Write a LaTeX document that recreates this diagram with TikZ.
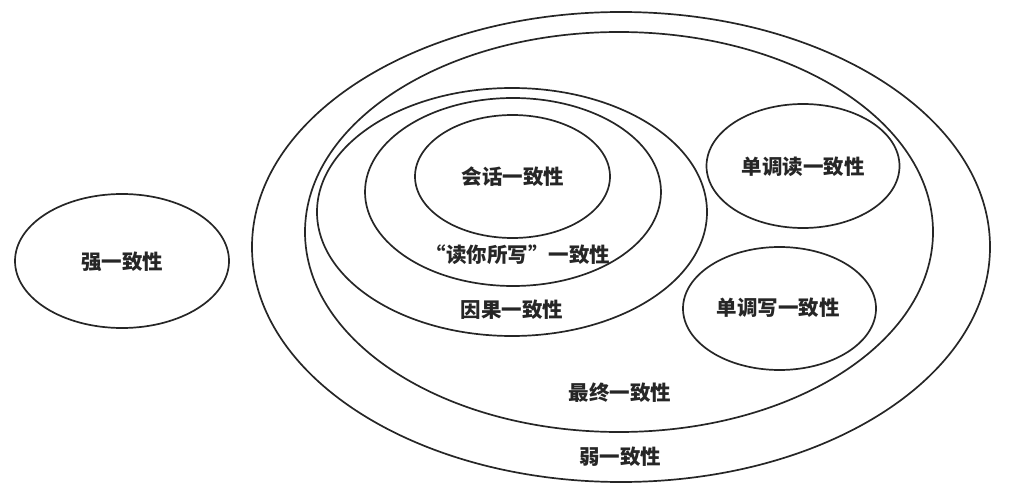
\documentclass[tikz,border=0pt]{standalone}
\usepackage{fontspec}
\newfontfamily\cjk{Noto Sans CJK SC}
\begin{document}
\begin{tikzpicture}[x=1pt,y=-1pt,
  ring/.style={draw=black!85, line width=1.7pt},
  lbl/.style={font=\cjk\bfseries\fontsize{20.5}{23}\selectfont, text=black!85, inner sep=0pt}]
\useasboundingbox (0,0) rectangle (1012,489);
% ellipses
\draw[ring] (122,261) ellipse [x radius=107, y radius=67];
\draw[ring] (621,247) ellipse [x radius=369, y radius=235];
\draw[ring] (619,232) ellipse [x radius=314, y radius=200];
\draw[ring] (512,212) ellipse [x radius=195, y radius=124];
\draw[ring] (513,192) ellipse [x radius=148, y radius=94];
\draw[ring] (512.5,176.5) ellipse [x radius=97.5, y radius=61.5];
\draw[ring] (803,166) ellipse [x radius=96.5, y radius=62];
\draw[ring] (779.5,308.5) ellipse [x radius=96.5, y radius=61.5];
% labels
\node[lbl] (strong) at (122,262) {强一致性};
\node[lbl] (session) at (513,177) {会话一致性};
\node[lbl] (ryw) at (518,255) {“读你所写”一致性};
\node[lbl] (causal) at (512,310) {因果一致性};
\node[lbl] (eventual) at (620,393) {最终一致性};
\node[lbl] (weak) at (620,457) {弱一致性};
\node[lbl] (mread) at (803,167) {单调读一致性};
\node[lbl] (mwrite) at (778,308) {单调写一致性};
\end{tikzpicture}
\end{document}
